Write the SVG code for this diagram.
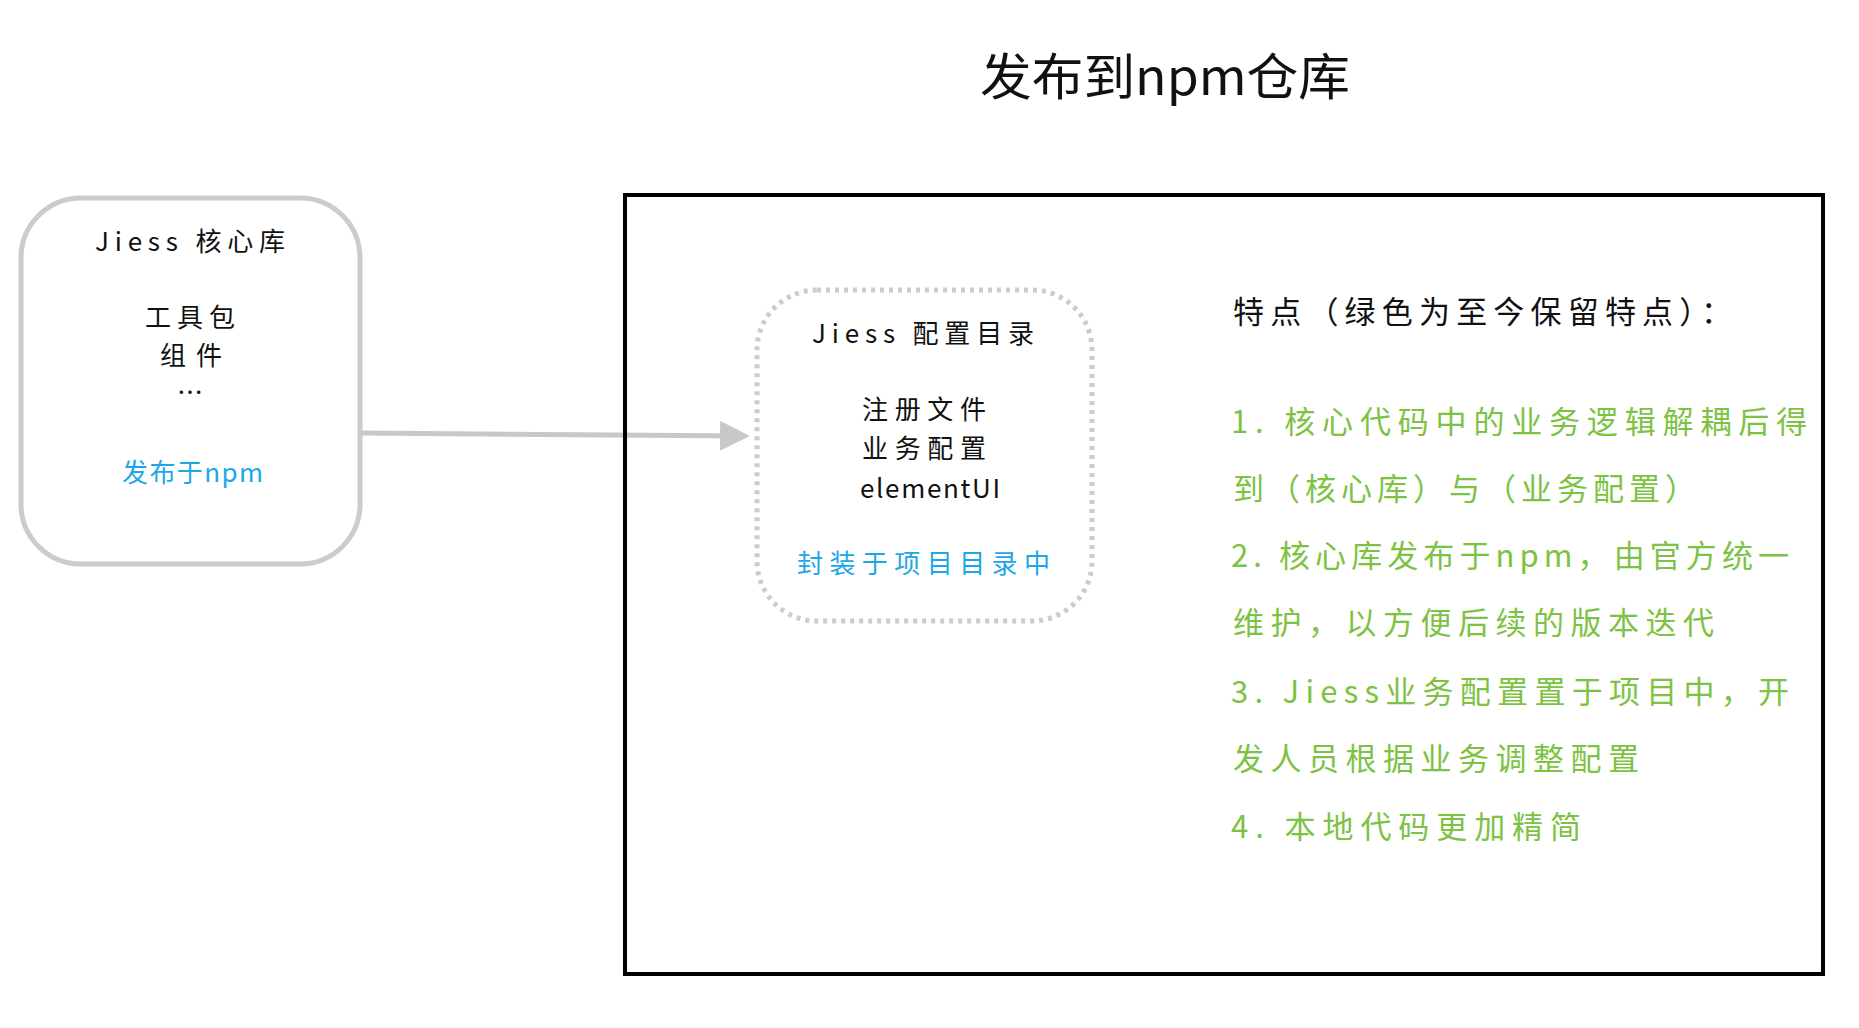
<svg xmlns="http://www.w3.org/2000/svg" width="1859" height="1028" viewBox="0 0 1859 1028">
<style>
text{font-family:"Noto Sans CJK SC","Liberation Sans",sans-serif;fill:#111;}
.n{font-size:26px;text-anchor:start}
.b{fill:#1ea7e6}
.g{fill:#7dc242;font-size:31px}
</style>
<defs><marker id="ah" markerWidth="6" markerHeight="6" refX="5" refY="3" orient="auto" markerUnits="strokeWidth"><path d="M0,0 L6,3 L0,6z" fill="#c8c8c8"/></marker></defs>
<rect width="1859" height="1028" fill="#fff"/>
<text x="980" y="95" font-size="50" textLength="370" lengthAdjust="spacingAndGlyphs">发布到npm仓库</text>
<g id="core">
<rect x="21" y="198" width="339" height="366" rx="60" fill="#fff" stroke="#cccccc" stroke-width="5"/>
<text class="n" x="95" y="251" textLength="190" lengthAdjust="spacing">Jiess 核心库</text>
<text class="n" x="145" y="327" textLength="90" lengthAdjust="spacing">工具包</text>
<text class="n" x="160" y="365" textLength="62" lengthAdjust="spacing">组件</text>
<text class="n" x="177" y="402">…</text>
<text class="n b" x="122" y="482" textLength="141" lengthAdjust="spacing">发布于npm</text>
</g>
<g id="connectors"><path d="M360,433 L745,436" stroke="#c8c8c8" stroke-width="5" fill="none" marker-end="url(#ah)"/></g>
<g id="frame"><rect x="625" y="195" width="1198" height="779" fill="none" stroke="#000" stroke-width="4"/></g>
<g id="config">
<rect x="757" y="290" width="335" height="331" rx="60" fill="#fff" stroke="#cccccc" stroke-width="5" stroke-dasharray="4,5"/>
<text class="n" x="812" y="343" textLength="222" lengthAdjust="spacing">Jiess 配置目录</text>
<text class="n" x="862" y="419" textLength="124" lengthAdjust="spacing">注册文件</text>
<text class="n" x="862" y="458" textLength="124" lengthAdjust="spacing">业务配置</text>
<text class="n" x="860" y="498" textLength="140" lengthAdjust="spacing">elementUI</text>
<text class="n b" x="797" y="573" textLength="253" lengthAdjust="spacing">封装于项目目录中</text>
</g>
<g id="notes">
<text x="1233" y="323" font-size="31" textLength="499" lengthAdjust="spacing">特点（绿色为至今保留特点）：</text>
<text class="g" x="1231" y="433" textLength="576" lengthAdjust="spacing">1. 核心代码中的业务逻辑解耦后得</text>
<text class="g" x="1233" y="500" textLength="463" lengthAdjust="spacing">到（核心库）与（业务配置）</text>
<text class="g" x="1231" y="567" textLength="558" lengthAdjust="spacing">2. 核心库发布于npm，由官方统一</text>
<text class="g" x="1233" y="634" textLength="481" lengthAdjust="spacing">维护，以方便后续的版本迭代</text>
<text class="g" x="1231" y="703" textLength="558" lengthAdjust="spacing">3. Jiess业务配置置于项目中，开</text>
<text class="g" x="1233" y="770" textLength="406" lengthAdjust="spacing">发人员根据业务调整配置</text>
<text class="g" x="1231" y="838" textLength="350" lengthAdjust="spacing">4. 本地代码更加精简</text>
</g>
</svg>
